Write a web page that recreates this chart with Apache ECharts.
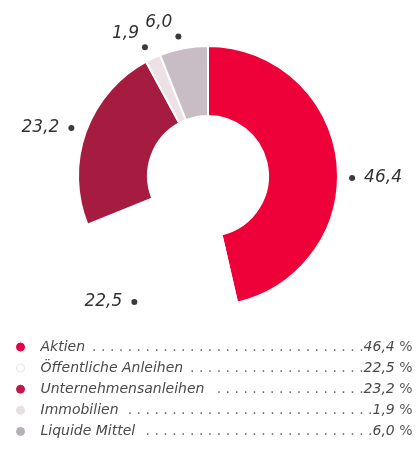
<!DOCTYPE html>
<html><head><meta charset="utf-8">
<script src="https://cdn.jsdelivr.net/npm/echarts@6/dist/echarts.min.js"></script>
<style>html,body{margin:0;padding:0;background:#fff}#c{width:419px;height:452px}</style>
</head><body><div id="c"></div>
<script>
// ---- data ----
const categories = ['Aktien', 'Öffentliche Anleihen', 'Unternehmensanleihen', 'Immobilien', 'Liquide Mittel'];
const values = [46.4, 22.5, 23.2, 1.9, 6.0];
const colors = ['#ee0039', '#ffffff', '#a51c40', '#ece2e6', '#c8bdc5'];
const legendDotColors = ['#e6004a', '#ffffff', '#c2184c', '#e8dfe3', '#b8afba'];

const fmt = v => v.toFixed(1).replace('.', ',');
const FONT = '"DejaVu Sans"';

// mid angles (clockwise from top) to decide label side
const total = values.reduce((a, b) => a + b, 0);
let cum = 0;
const mids = values.map(v => { const m = (cum + v / 2) / total * 360; cum += v; return m; });

// text measurement for legend leaders
const ctx = document.createElement('canvas').getContext('2d');
function tw(str, italic, size) {
  ctx.font = (italic ? 'italic ' : 'normal ') + 'normal ' + size + 'px ' + FONT;
  return ctx.measureText(str).width;
}
const LEG_SIZE = 14;
const LEG_WIDTH = 372;
const legendRich = {
  sp: { width: 11 },
  n: { fontFamily: FONT, fontSize: LEG_SIZE, fontStyle: 'italic', color: '#4a4a4a' },
  l: { fontFamily: FONT, fontSize: LEG_SIZE, fontStyle: 'normal', color: '#6e6e6e' },
  v: { fontFamily: FONT, fontSize: LEG_SIZE, fontStyle: 'italic', color: '#4a4a4a' },
  p: { fontFamily: FONT, fontSize: LEG_SIZE, fontStyle: 'normal', color: '#5a5a5a' }
};
const legendText = {};
categories.forEach((name, i) => {
  const t = fmt(values[i]);
  const nameW = tw(name, true, LEG_SIZE);
  const valW = tw(t, true, LEG_SIZE) + tw(' %', false, LEG_SIZE);
  const unit = tw(' .', false, LEG_SIZE);
  const avail = LEG_WIDTH - nameW - valW;
  const n = Math.max(0, Math.floor(avail / unit));
  const gap = Math.max(0, avail - n * unit);
  legendRich['g' + i] = { width: gap };
  legendText[name] = '{sp|}{n|' + name + '}{g' + i + '|}{l|' + ' .'.repeat(n) + '}{v|' + t + '}{p| %}';
});

const chart = echarts.init(document.getElementById('c'), null, { renderer: 'canvas' });
const labelRich = {
  d: { width: 6, height: 6, borderRadius: 3, backgroundColor: '#3a3a40' },
  g: { width: 9 },
  v: { fontFamily: FONT, fontSize: 17, fontStyle: 'italic', color: '#333', lineHeight: 18 },
  vr: { fontFamily: FONT, fontSize: 17, fontStyle: 'italic', color: '#333', lineHeight: 18, align: 'right' },
  g2r: { width: 9, align: 'right', lineHeight: 18 },
  dr: { width: 6, height: 6, borderRadius: 3, backgroundColor: '#3a3a40', align: 'right', lineHeight: 10 },
  b: { height: 18, lineHeight: 18 }
};

chart.setOption({
  backgroundColor: '#fff',
  animation: false,
  legend: {
    orient: 'vertical',
    left: 16,
    top: 339,
    padding: 0,
    itemGap: 5.1,
    itemWidth: 8,
    itemHeight: 8,
    icon: 'circle',
    selectedMode: false,
    data: categories.map((c, i) => ({
      name: c,
      itemStyle: { color: legendDotColors[i], borderColor: i === 1 ? '#e4e4e4' : legendDotColors[i], borderWidth: 1 }
    })),
    formatter: name => legendText[name],
    textStyle: { fontFamily: FONT, fontSize: LEG_SIZE, lineHeight: 16, color: '#4a4a4a', rich: legendRich }
  },
  series: [{
    type: 'pie',
    center: [208, 176],
    radius: [60, 130],
    startAngle: 90,
    clockwise: true,
    avoidLabelOverlap: false,
    silent: true,
    itemStyle: { borderColor: '#fff', borderWidth: 2 },
    label: {
      show: true,
      position: 'outside',
      distanceToLabelLine: 0,
      fontFamily: FONT,
      fontSize: 17,
      fontStyle: 'italic',
      color: '#333',
      rich: labelRich,
      formatter: p => {
        const m = mids[p.dataIndex];
        const t = fmt(p.value);
        if (m < 180) return '{d|}{g|}{v|' + t + '}';
        if (m < 315) return '{v|' + t + '}{g|}{d|}';
        return '{vr|' + t + '}{g2r|}\n{dr|}\n{b|}';
      }
    },
    labelLine: { show: false, length: 12, length2: 0 },
    labelLayout: p => (p.dataIndex === 0 ? { dy: 18 } : (p.dataIndex === 1 ? { dx: -5 } : {})),
    data: categories.map((c, i) => ({ name: c, value: values[i], itemStyle: { color: colors[i] } }))
  }]
});
</script></body></html>
